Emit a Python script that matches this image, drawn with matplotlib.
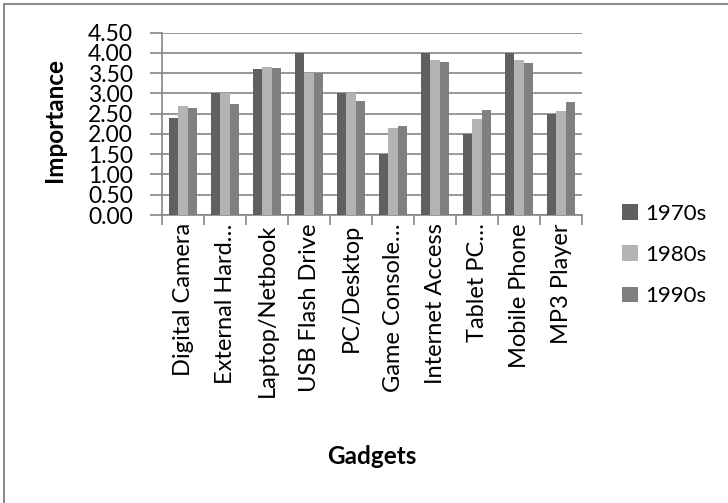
import numpy as np
import matplotlib
matplotlib.use('Agg')
import matplotlib.pyplot as plt
from matplotlib.patches import Rectangle

# 데이터
gadgets = ['Digital Camera', 'External Hard…', 'Laptop/Netbook', 'USB Flash Drive',
           'PC/Desktop', 'Game Console…', 'Internet Access', 'Tablet PC…',
           'Mobile Phone', 'MP3 Player']
s1970 = [2.40, 3.00, 3.60, 4.00, 3.00, 1.50, 4.00, 2.00, 4.00, 2.50]
s1980 = [2.70, 3.00, 3.65, 3.50, 3.00, 2.15, 3.82, 2.37, 3.82, 2.56]
s1990 = [2.63, 2.75, 3.63, 3.50, 2.81, 2.20, 3.77, 2.58, 3.76, 2.78]
series_names = ['1970s', '1980s', '1990s']
yticks = np.arange(0, 4.51, 0.5)

plt.rcParams['font.family'] = ['Lato', 'DejaVu Sans']
grid_c = '#868686'

fig = plt.figure(figsize=(7.28, 5.03), dpi=100)
W, H = 728, 503
ax = fig.add_axes([162 / W, 1 - 215 / H, 420 / W, (215 - 32.7) / H])

# 차트 외곽선 (오른쪽/아래는 잘려 있음)
fig.patches.append(Rectangle((3.5 / W, -0.1), 1.2, 1 - 3.5 / H + 0.1, transform=fig.transFigure,
                             fill=False, edgecolor='#8c8c8c', linewidth=1.5))

x = np.arange(len(gadgets))
bw = 0.215
colors = ['#606060', '#b3b3b3', '#808080']
for i, (vals, name) in enumerate(zip([s1970, s1980, s1990], series_names)):
    ax.bar(x + (i - 1) * bw, vals, width=bw, color=colors[i], label=name, zorder=3)

ax.set_xlim(-0.5, len(gadgets) - 0.5)
ax.set_ylim(0, 4.5)
ax.set_yticks(yticks)
ax.set_yticklabels(['%.2f' % v for v in yticks], fontsize=16.5)
ax.yaxis.grid(True, color=grid_c, linewidth=1.2, zorder=0)
ax.set_xticks(x)
ax.set_xticklabels(gadgets, rotation=90, fontsize=17, va='top', ha='center')
ax.set_xticks(np.arange(-0.5, len(gadgets)), minor=True)
ax.tick_params(axis='x', which='major', length=0, pad=6)
ax.tick_params(axis='x', which='minor', length=7, color=grid_c, width=1.2)
ax.tick_params(axis='y', length=9, color=grid_c, width=1.2, pad=12)

for side in ['top', 'right']:
    ax.spines[side].set_visible(False)
for side in ['left', 'bottom']:
    ax.spines[side].set_color(grid_c)
    ax.spines[side].set_linewidth(1.2)

fig.text(54 / W, 1 - 120 / H, 'Importance', rotation=90, fontsize=17.5, fontweight='bold',
         ha='center', va='center')
fig.text(372 / W, 1 - 457 / H, 'Gadgets', fontsize=17.5, fontweight='bold',
         ha='center', va='center')

fig.legend(loc='center left', bbox_to_anchor=(622 / W, 1 - 255 / H), frameon=False,
           fontsize=16, handlelength=0.7, handleheight=0.7, labelspacing=0.96,
           handletextpad=0.35, borderpad=0, borderaxespad=0)

fig.savefig('out.png', dpi=100)
